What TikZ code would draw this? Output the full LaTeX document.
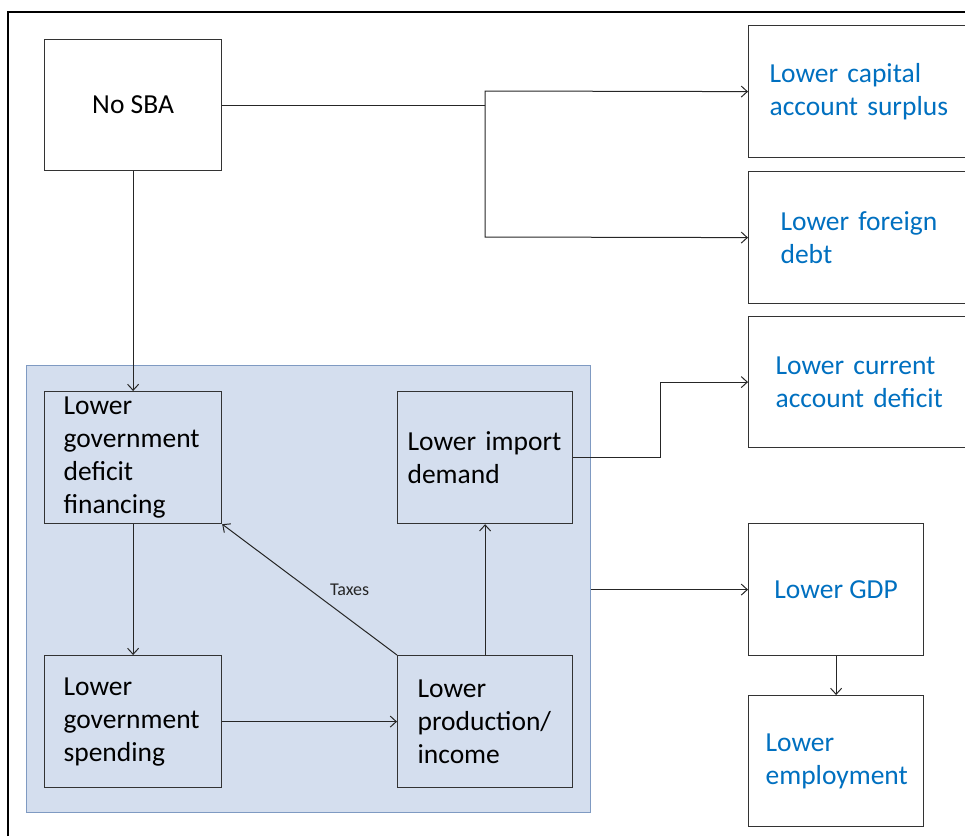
\documentclass[tikz,border=0pt]{standalone}
\usepackage{fontspec}
\setmainfont{Carlito}
\usetikzlibrary{arrows.meta}
\definecolor{txtblue}{HTML}{0070C0}
\definecolor{panelfill}{HTML}{D4DEEE}
\definecolor{paneledge}{HTML}{7F9AC2}
\definecolor{edgegray}{HTML}{333333}
\tikzset{
  box/.style={draw=edgegray, line width=1.2pt, anchor=north west, inner ysep=0pt,
    align=left, font=\fontsize{27.5}{33}\selectfont},
  rbox/.style={box, fill=white, text=txtblue},
  panelbox/.style={draw=paneledge, fill=panelfill, line width=1.4pt, anchor=north west, inner sep=0pt},
  conn/.style={draw=black!85, line width=1pt},
  arr/.style={conn, -{Straight Barb[length=6pt,width=11pt]}},
  taxlbl/.style={font=\fontsize{18}{20}\selectfont, text=black!85}
}
\begin{document}
\begin{tikzpicture}[x=1pt,y=-1pt]
\useasboundingbox (0,0) rectangle (965,836);
% outer frame
\draw[black, line width=1.2pt] (8,836) -- (8,12) -- (965,12);
% panel
\node[panelbox, minimum width=564, minimum height=447] (panel) at (26,365) {};
% top box
\node[box, fill=white, align=center, minimum width=177, minimum height=131, inner xsep=0pt] (sba) at (44,39) {No SBA};
% panel boxes
\node[box, minimum height=132, inner xsep=19, text width=139] (gdf) at (44,391) {Lower\\government\\deficit\\financing};
\node[box, minimum height=132, inner xsep=10, text width=155] (imp) at (397,391) {Lower import\\demand};
\node[box, minimum height=132, inner xsep=19, text width=139] (spend) at (44,655) {Lower\\government\\spending};
\node[box, minimum height=132, inner xsep=20, text width=135] (prod) at (397,655) {Lower\\production/\\income};
% right boxes (cut at right edge)
\begin{scope}
\clip (0,0) rectangle (965,836);
\node[rbox, minimum height=132, inner xsep=21, text width=188] (r1) at (748,25) {Lower capital\\account surplus};
\node[rbox, minimum height=132, inner xsep=32, text width=166] (r2) at (748,171) {Lower foreign\\debt};
\node[rbox, minimum height=131, inner xsep=27, text width=176] (r3) at (748,316) {Lower current\\account deficit};
\end{scope}
\node[rbox, minimum width=175, minimum height=132, inner xsep=0pt] (gdp) at (748,523) {Lower GDP};
\node[rbox, minimum height=131, inner xsep=17, text width=141] (emp) at (748,695) {Lower\\employment};
% junction coordinates
\coordinate (jt) at (485,91);
\coordinate (jb) at (485,237);
\coordinate (kx) at (660,0);
% connectors
\draw[conn] (sba.east) -- (jt |- sba.east);
\draw[arr] (jt |- sba.east) -- (jt) -- (r1.west);
\draw[arr] (jt |- sba.east) -- (jb) -- (r2.west);
\draw[arr] (sba.south) -- (gdf.north);
\draw[arr] (gdf.south) -- (spend.north);
\draw[arr] (spend.east) -- (prod.west);
\draw[arr] (prod.north west) -- node[taxlbl, xshift=40pt] {Taxes} (gdf.south east);
\draw[arr] (prod.north) -- (imp.south);
\draw[arr] (imp.east) -- (imp.east -| kx) -- (kx |- r3.west) -- (r3.west);
\draw[arr] (panel.east |- gdp.west) -- (gdp.west);
\draw[arr] (gdp.south) -- (emp.north);
\end{tikzpicture}
\end{document}
